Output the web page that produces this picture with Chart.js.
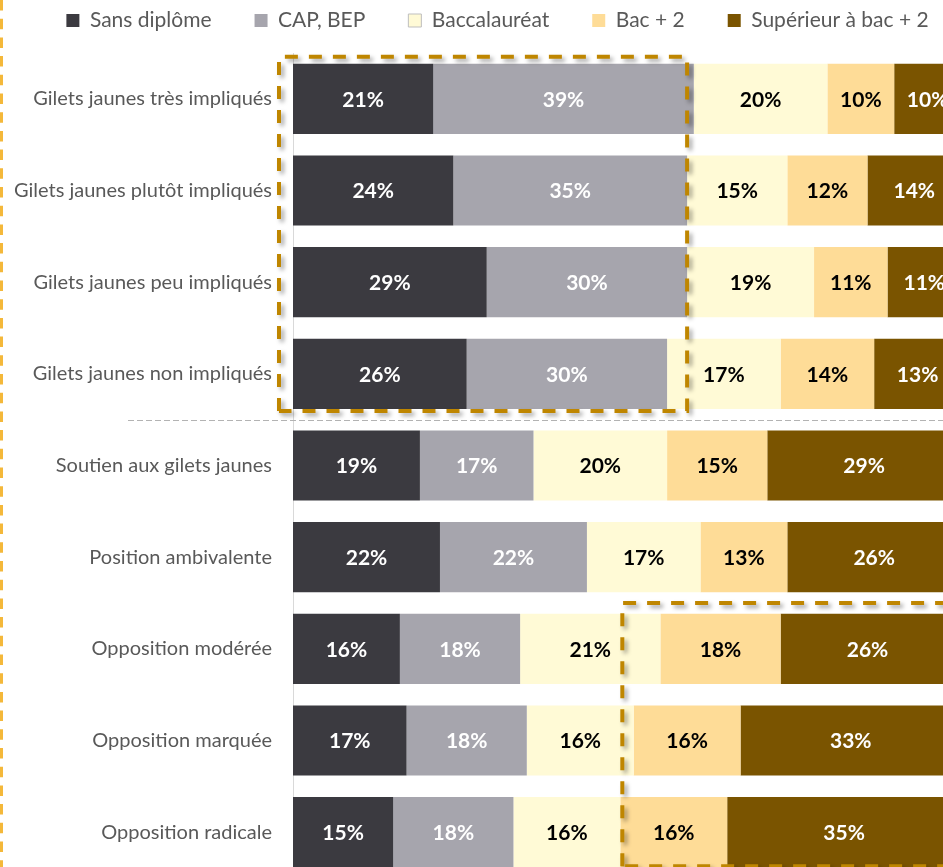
<!DOCTYPE html>
<html>
<head>
<meta charset="utf-8">
<script src="https://cdn.jsdelivr.net/npm/chart.js@4.4.1/dist/chart.umd.min.js"></script>
<style>
  html, body { margin: 0; padding: 0; background: #fff; overflow: hidden; }
  #wrap { width: 961px; height: 878px; }
</style>
</head>
<body>
<div id="wrap"><canvas id="c" width="961" height="878"></canvas></div>
<script>
// ---- data ----
const categories = [
  "Gilets jaunes très impliqués",
  "Gilets jaunes plutôt impliqués",
  "Gilets jaunes peu impliqués",
  "Gilets jaunes non impliqués",
  "Soutien aux gilets jaunes",
  "Position ambivalente",
  "Opposition modérée",
  "Opposition marquée",
  "Opposition radicale"
];
const seriesNames = ["Sans diplôme", "CAP, BEP", "Baccalauréat", "Bac + 2", "Supérieur à bac + 2"];
const sansDiplome = [21, 24, 29, 26, 19, 22, 16, 17, 15];
const capBep      = [39, 35, 30, 30, 17, 22, 18, 18, 18];
const baccalaureat= [20, 15, 19, 17, 20, 17, 21, 16, 16];
const bacPlus2    = [10, 12, 11, 14, 15, 13, 18, 16, 16];
const superieur   = [10, 14, 11, 13, 29, 26, 26, 33, 35];

// ---- styles ----
const colors = ["#3b3a40", "#a6a5ad", "#fffad6", "#fedc97", "#7a5400"];
const labelColors = ["#ffffff", "#ffffff", "#000000", "#000000", "#ffffff"];
const FONT = "Lato, 'Open Sans', sans-serif";

const seriesValues = [sansDiplome, capBep, baccalaureat, bacPlus2, superieur];

const datasets = seriesNames.map((name, i) => ({
  label: name,
  data: seriesValues[i],
  backgroundColor: colors[i],
  borderWidth: 0,
  categoryPercentage: 0.765,
  barPercentage: 1.0
}));

// legend sizing / placement control
const legendTweak = {
  id: 'legendTweak',
  beforeLayout(chart) {
    const lg = chart.legend;
    if (lg && !lg._tweaked) {
      const fit = lg.fit;
      lg.fit = function () { fit.call(this); this.height = 53; };
      const draw = lg.draw;
      lg.draw = function () {
        const t = this.top, l = this.left, r = this.right;
        this.top = t - 33;
        this.left = l + 17;
        this.right = r + 17;
        draw.call(this);
        this.top = t; this.left = l; this.right = r;
      };
      lg._tweaked = true;
    }
  }
};

// separators, decorations, value labels
const decor = {
  id: 'decor',
  beforeDatasetsDraw(chart) {
    const ctx = chart.ctx, ys = chart.scales.y;
    const yy = Math.round((ys.getPixelForValue(3) + ys.getPixelForValue(4)) / 2) + 0.5;
    ctx.save();
    ctx.strokeStyle = "#b3b3b3";
    ctx.lineWidth = 1;
    ctx.setLineDash([6, 3]);
    ctx.beginPath();
    ctx.moveTo(128, yy);
    ctx.lineTo(chart.width, yy);
    ctx.stroke();
    ctx.restore();
  },
  afterDatasetsDraw(chart) {
    const ctx = chart.ctx;
    ctx.save();
    ctx.font = "bold 21px " + FONT;
    ctx.textAlign = "center";
    ctx.textBaseline = "middle";
    chart.data.datasets.forEach((ds, di) => {
      const meta = chart.getDatasetMeta(di);
      meta.data.forEach((bar, i) => {
        ctx.fillStyle = labelColors[di];
        ctx.fillText(ds.data[i] + "%", (bar.x + bar.base) / 2, bar.y + 1);
      });
    });
    ctx.restore();
  },
  afterDraw(chart) {
    const ctx = chart.ctx, xs = chart.scales.x, ys = chart.scales.y;
    const meta = chart.getDatasetMeta(0);
    // left page edge dashes
    ctx.save();
    ctx.strokeStyle = "#f4b83a";
    ctx.lineWidth = 3;
    ctx.setLineDash([10.5, 8.2]);
    ctx.beginPath();
    ctx.moveTo(1.5, 0);
    ctx.lineTo(1.5, chart.height);
    ctx.stroke();
    ctx.restore();

    function dashedRect(l, t, r, b) {
      ctx.save();
      ctx.strokeStyle = "#bf8600";
      ctx.lineWidth = 4;
      ctx.setLineDash([13, 11]);
      ctx.shadowColor = "rgba(0,0,0,0.35)";
      ctx.shadowBlur = 4;
      ctx.shadowOffsetX = 3;
      ctx.shadowOffsetY = 3;
      ctx.beginPath();
      ctx.moveTo(l, b); ctx.lineTo(l, t); ctx.lineTo(r, t); ctx.lineTo(r, b); ctx.lineTo(l, b);
      ctx.stroke();
      ctx.restore();
    }
    const b0 = meta.data[0], b3 = meta.data[3], b8 = meta.data[8];
    dashedRect(
      xs.getPixelForValue(0) - 14,
      b0.y - b0.height / 2 - 7,
      xs.getPixelForValue(59),
      b3.y + b3.height / 2 + 2
    );
    dashedRect(
      xs.getPixelForValue(49.3),
      (ys.getPixelForValue(5) + ys.getPixelForValue(6)) / 2,
      xs.getPixelForValue(100) + 30,
      b8.y + b8.height / 2 - 1
    );
  }
};

new Chart(document.getElementById('c'), {
  type: 'bar',
  data: { labels: categories, datasets },
  options: {
    indexAxis: 'y',
    responsive: false,
    animation: false,
    devicePixelRatio: 1,
    layout: { autoPadding: false, padding: 0 },
    plugins: {
      tooltip: { enabled: false },
      legend: {
        position: 'top',
        labels: {
          boxWidth: 13,
          boxHeight: 13,
          padding: 43,
          color: "#595959",
          font: { family: FONT, size: 21 },
          generateLabels(chart) {
            const items = Chart.defaults.plugins.legend.labels.generateLabels(chart);
            items.forEach((it, i) => {
              it.lineWidth = i === 2 ? 1 : 0;
              it.strokeStyle = i === 2 ? "#bfbfbf" : colors[i];
            });
            return items;
          }
        }
      }
    },
    scales: {
      x: { stacked: true, min: 0, max: 100, display: false },
      y: {
        stacked: true,
        grid: { display: false, drawTicks: false },
        border: { display: true, color: "#d9d9d9", width: 1 },
        ticks: { color: "#595959", font: { family: FONT, size: 20 }, padding: 21 },
        afterFit(scale) {
          scale.width = 293;
          scale.paddingTop = 0;
          scale.paddingBottom = 0;
        }
      }
    }
  },
  plugins: [legendTweak, decor]
});
</script>
</body>
</html>
